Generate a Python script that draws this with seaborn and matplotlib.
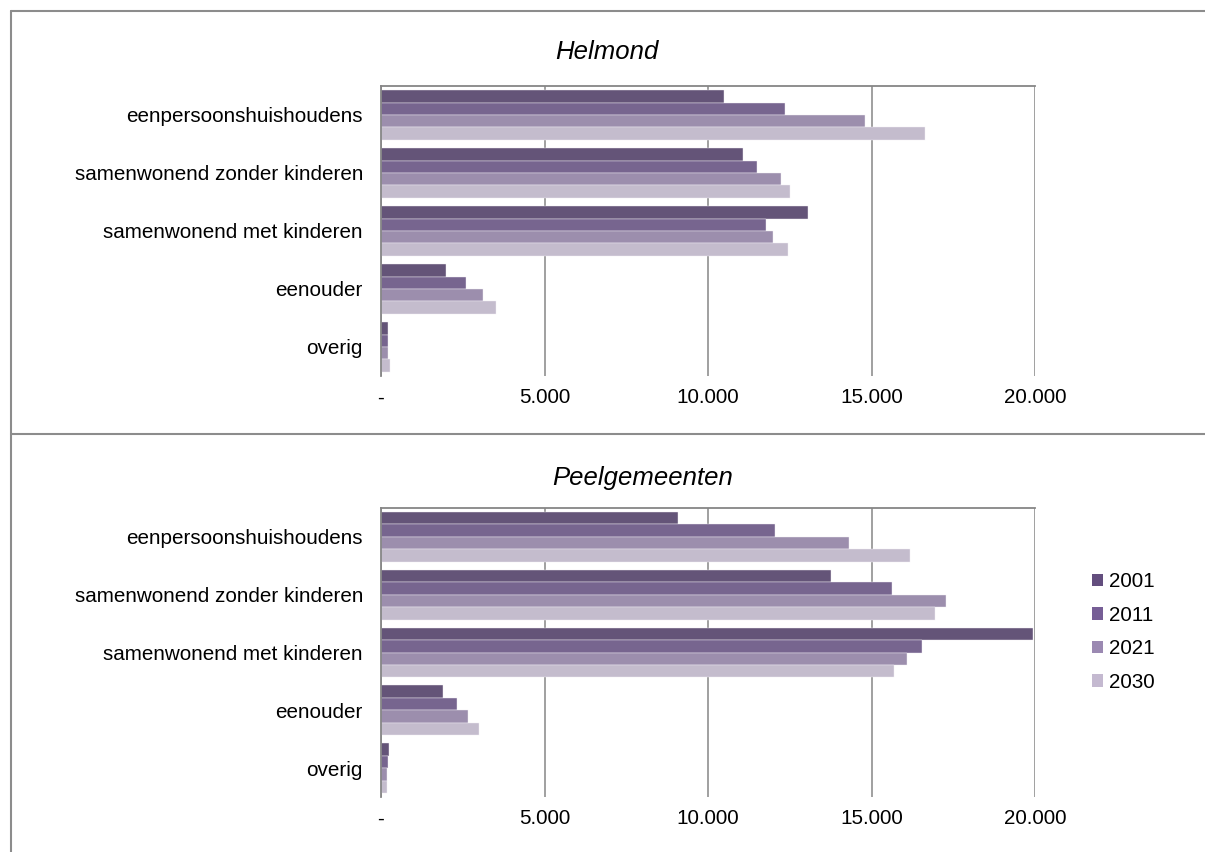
import pandas as pd
import numpy as np
import matplotlib
matplotlib.use("Agg")
import matplotlib.pyplot as plt
import seaborn as sns
from matplotlib.lines import Line2D
from matplotlib.patches import Patch

# Data
categories = ['eenpersoonshuishoudens', 'samenwonend zonder kinderen',
              'samenwonend met kinderen', 'eenouder', 'overig']
years = ['2001', '2011', '2021', '2030']
helmond = {
    '2001': [10490, 11080, 13060, 1990, 200],
    '2011': [12340, 11500, 11760, 2610, 200],
    '2021': [14810, 12230, 12000, 3120, 220],
    '2030': [16630, 12520, 12440, 3530, 270],
}
peel = {
    '2001': [9070, 13750, 19950, 1890, 250],
    '2011': [12040, 15620, 16550, 2310, 200],
    '2021': [14300, 17280, 16100, 2650, 170],
    '2030': [16180, 16940, 15700, 2990, 170],
}
xticks = [0, 5000, 10000, 15000, 20000]
xtick_labels = ['-', '5.000', '10.000', '15.000', '20.000']
colors = ['#634e7e', '#765e96', '#9b89b2', '#c4b9d0']


def to_long(d):
    rows = []
    for y in years:
        for c, v in zip(categories, d[y]):
            rows.append({'categorie': c, 'jaar': y, 'aantal': v})
    return pd.DataFrame(rows)


sns.set_style('white')
plt.rcParams['font.family'] = ['Liberation Sans', 'DejaVu Sans']
plt.rcParams['text.color'] = 'black'
plt.rcParams['xtick.color'] = 'black'
plt.rcParams['ytick.color'] = 'black'

fig = plt.figure(figsize=(12.05, 8.52), dpi=100)
W, H = 1205, 852
grid_col = '#868686'
fs = 14.9


def draw_panel(rect, d, title, title_x, title_y):
    ax = fig.add_axes(rect)
    df = to_long(d)
    sns.barplot(data=df, x='aantal', y='categorie', hue='jaar', order=categories,
                hue_order=years, palette=colors, width=0.86, orient='h',
                edgecolor='#f2eff5', linewidth=0.3, legend=False, ax=ax)
    ax.set_xlim(0, 20000)
    ax.set_ylim(4.5, -0.5)
    ax.set_xticks(xticks)
    ax.set_xticklabels(xtick_labels, fontsize=fs)
    ax.tick_params(axis='x', length=0, pad=9)
    ax.set_yticks(range(len(categories)))
    ax.set_yticklabels(categories, fontsize=fs)
    ax.tick_params(axis='y', which='major', length=0, pad=13)
    ax.set_yticks(np.arange(-0.5, len(categories), 1.0), minor=True)
    ax.tick_params(axis='y', which='minor', length=5, width=1.3, color=grid_col)
    ax.set_xlabel('')
    ax.set_ylabel('')
    ax.grid(axis='x', color=grid_col, linewidth=1.1)
    ax.set_axisbelow(True)
    for s in ['bottom', 'right']:
        ax.spines[s].set_visible(False)
    for s in ['top', 'left']:
        ax.spines[s].set_color(grid_col)
        ax.spines[s].set_linewidth(1.3)
    fig.text(title_x / W, 1 - title_y / H, title, fontsize=18.5, style='italic',
             ha='center', va='center')
    return ax


ax1 = draw_panel([381 / W, 1 - 376 / H, 654 / W, 290 / H], helmond, 'Helmond', 607, 52)
ax2 = draw_panel([381 / W, 1 - 797 / H, 654 / W, 289 / H], peel, 'Peelgemeenten', 643, 478)

# legend
handles = [Patch(facecolor=c, edgecolor='none') for c in colors]
fig.legend(handles, years, loc='center left', bbox_to_anchor=(1073 / W, 1 - 632 / H),
           frameon=False, fontsize=fs, handlelength=0.55, handleheight=0.55,
           handletextpad=0.3, labelspacing=0.7)

# chart borders
border = dict(color='#8c8c8c', linewidth=1.5)
fig.add_artist(Line2D([11 / W, 1], [1 - 11 / H, 1 - 11 / H], **border))
fig.add_artist(Line2D([11 / W, 1], [1 - 434 / H, 1 - 434 / H], **border))
fig.add_artist(Line2D([11 / W, 11 / W], [1 - 11 / H, 0], **border))

fig.savefig('out.png', dpi=100)
